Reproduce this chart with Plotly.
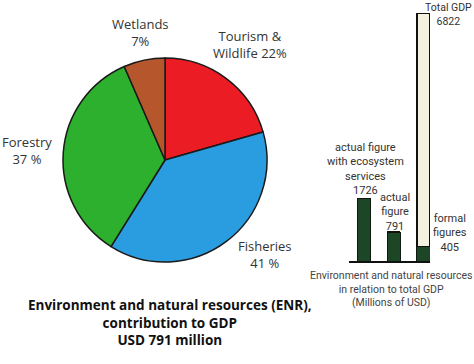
import plotly.graph_objects as go

W, H = 474, 364

# Pie data
pie_labels = ["Tourism &<br>Wildlife", "Fisheries", "Forestry", "Wetlands"]
pie_values = [22, 41, 37, 7]
pie_text = ["Tourism &<br>Wildlife 22%", "Fisheries<br>41 %", "Forestry<br>37 %", "Wetlands<br>7%"]
pie_colors = ["#ec1c24", "#2a9de0", "#2db02d", "#b5562c"]

# Bar data
bar_cats = ["actual figure with ecosystem services", "actual figure", "formal figures"]
bar_enr = [1726, 791, 405]
total_gdp = 6822
bar_rest = [0, 0, total_gdp - 405]
bar_text = ["actual figure<br>with ecosystem<br>services<br>1726", "actual<br>figure<br>791", "formal<br>figures<br>405"]

def px(x):
    return x / W

def py(y):
    return 1 - y / H

fig = go.Figure()

fig.add_trace(go.Pie(
    labels=pie_labels, values=pie_values, sort=False, direction="clockwise",
    rotation=0, textinfo="none", hoverinfo="label+percent",
    marker=dict(colors=pie_colors, line=dict(color="#1a1a1a", width=1.5)),
    domain=dict(x=[px(63), px(267)], y=[py(262), py(58)]),
    showlegend=False,
))

fig.add_trace(go.Bar(
    x=[0, 1, 2], y=bar_enr, width=0.44,
    marker=dict(color="#1d4626", line=dict(color="#0d1a0f", width=1)),
    xaxis="x2", yaxis="y2", showlegend=False,
))
fig.add_trace(go.Bar(
    x=[0, 1, 2], y=bar_rest, width=0.44,
    marker=dict(color="#f4f1df", line=dict(color="#111", width=1.5)),
    xaxis="x2", yaxis="y2", showlegend=False,
))

font_fam = "Open Sans, DejaVu Sans, sans-serif"
small_fam = "Roboto, Open Sans, sans-serif"
ann = []

def add(text, x, y, size, color, xa="center", fam=font_fam):
    ann.append(dict(x=px(x), y=py(y), xref="paper", yref="paper", text=text, showarrow=False,
                    xanchor=xa, yanchor="middle",
                    font=dict(size=size, color=color, family=fam), align="center"))

# pie labels
pie_pos = [(250, 44, "center"), (265, 254, "center"), (0, 150, "left"), (140, 32, "center")]
for t, (x, y, xa) in zip(pie_text, pie_pos):
    add(t, x, y, 13, "#333", xa)
# bar labels
bar_pos = [(365, 169), (395, 212), (450, 233)]
for t, (x, y) in zip(bar_text, bar_pos):
    add(t, x, y, 11, "#333", fam=small_fam)
add("Total GDP<br>" + str(total_gdp), 448, 15, 10.5, "#333", fam=small_fam)
add("Environment and natural resources<br>in relation to total GDP<br>(Millions of USD)", 391, 289, 10.5, "#444", fam=small_fam)
add("<b>Environment and natural resources (ENR),<br>contribution to GDP<br>USD 791 million</b>", 170, 322, 13.5, "#111")

fig.update_layout(
    width=W, height=H, margin=dict(l=0, r=0, t=0, b=0),
    paper_bgcolor="white", plot_bgcolor="rgba(0,0,0,0)",
    barmode="stack",
    xaxis2=dict(domain=[px(349), px(430)], range=[-0.5, 2.22], showgrid=False, zeroline=False,
                showticklabels=False, showline=True, linecolor="#111", linewidth=2, anchor="y2", ticks=""),
    yaxis2=dict(domain=[py(261), py(13)], range=[0, total_gdp], showgrid=False, zeroline=False,
                showticklabels=False, showline=False, anchor="x2"),
    xaxis=dict(visible=False), yaxis=dict(visible=False),
    annotations=ann,
)

fig.write_html("out.html", config={"displayModeBar": False},
               post_script="document.body.style.margin='0';document.body.style.padding='0';")
